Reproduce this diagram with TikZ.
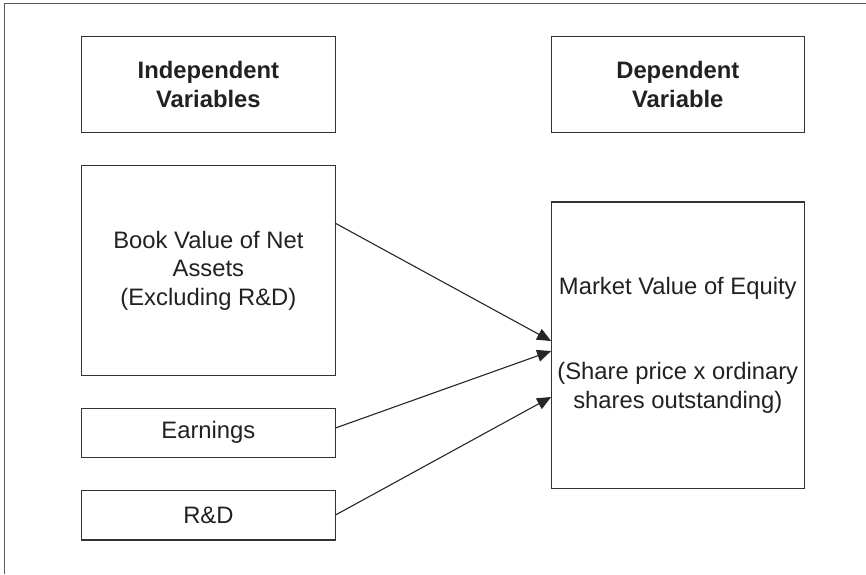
\documentclass[tikz,border=0pt]{standalone}
\usepackage{fontspec}
\setmainfont{Liberation Sans}
\usetikzlibrary{positioning, arrows.meta}

\begin{document}
\begin{tikzpicture}[
	x=0.5pt, y=-0.5pt,
	node distance = 16.5pt,
	every node/.style = {draw=black!80, line width=0.6pt, text=black!87, align=center, inner sep=0pt, outer sep=0pt, minimum width=126.7pt, font=\fontsize{11.9}{14.25}\selectfont},
	head/.style = {font=\bfseries\fontsize{11.9}{14.25}\selectfont},
	link/.style = {draw=black!85, line width=0.55pt, -{Triangle[length=7pt,width=6pt]}}
]
	\useasboundingbox (0,0) rectangle (866,574);
	\draw[black!65, line width=0.7pt] (4.7,574) -- (4.7,3.5) -- (866,3.5);
	%
	\node (iv) [head, minimum height=48pt, anchor=north west] at (81.7,36.7) {Independent\\Variables};
	\node (dv) [head, minimum height=48pt, right=108pt of iv]              {Dependent\\Variable};
	%
	\node (bv)   [minimum height=104.7pt, below=of iv]   {Book Value of Net\\Assets\\(Excluding R\&D)};
	\node (earn) [minimum height=24.7pt, below=of bv]    {Earnings};
	\node (rd)   [minimum height=24.7pt, below=of earn]  {R\&D};
	%
	\node (mv)   [minimum height=143.3pt, below=34.65pt of dv] {Market Value of Equity\\[28.5pt](Share price x ordinary\\shares outstanding)};
	%
	\draw[link] ([yshift=23.65pt]bv.east) -- ([yshift=2.15pt]mv.west);
	\draw[link] ([yshift=2.35pt]earn.east) -- ([yshift=-2.85pt]mv.west);
	\draw[link] (rd.east) -- ([yshift=-25.85pt]mv.west);
\end{tikzpicture}
\end{document}
